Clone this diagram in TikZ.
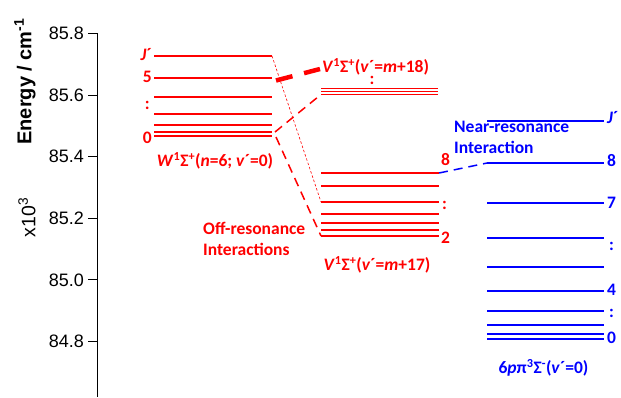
\documentclass[tikz,border=0pt]{standalone}
\usepackage{fontspec}
\setmainfont{Liberation Sans}
\newfontfamily\lblfont{Carlito}
\begin{document}
\begin{tikzpicture}[x=1pt, y=-1pt,
	lvl/.style={line width=1.8pt},
	lbl/.style={inner sep=0pt, font=\lblfont\fontsize{17.5}{20}\selectfont\bfseries},
	tick/.style={inner sep=0pt, anchor=east, font=\fontsize{18}{20}\selectfont},
	dashlink/.style={line width=1.5pt, dash pattern=on 9pt off 6pt},
	dotlink/.style={line width=0.6pt, dash pattern=on 2.5pt off 2pt}]
	\useasboundingbox (0,0) rectangle (621,397);
	% energy axis
	\draw[line width=1pt] (97.5,33)--(97.5,397);
	\foreach \v [count=\i from 0] in {85.8, 85.6, 85.4, 85.2, 85.0, 84.8} {
		\draw[line width=1pt] (88,33.5+61.6*\i)--(97.5,33.5+61.6*\i);
		\node[tick] (t\i) at (84,33.5+61.6*\i) {\v};
	}
	\node[rotate=90, inner sep=0pt, font=\fontsize{20}{22}\selectfont\bfseries] (ylab) at (25,81.5) {Energy / cm\textsuperscript{-1}};
	\node[rotate=90, inner sep=0pt, font=\fontsize{19.5}{22}\selectfont] (xten) at (27,217.5) {x10\textsuperscript{3}};

	\begin{scope}[red]
	% W state
	\foreach \y [count=\i] in {56, 78, 97, 114, 125, 132, 136}
		\draw[lvl] (154,\y) coordinate (wL\i)--(272,\y) coordinate (wR\i);
	\node[lbl, anchor=east] (wJ) at (152,55) {\textit{J}´};
	\node[lbl, anchor=east] (w5) at (152,77) {5};
	\node[lbl, anchor=east] (wd) at (150,105) {:};
	\node[lbl, anchor=east] (w0) at (152,137.5) {0};
	\node[lbl] (wname) at (215,161) {\textit{W}\textsuperscript{1}Σ\textsuperscript{+}(\textit{n}=6; \textit{v}´=0)};
	% V state, m+18
	\foreach \y [count=\i] in {88.5, 91.5, 94.5}
		\draw[line width=1pt] (321,\y) coordinate (aL\i)--(438,\y) coordinate (aR\i);
	\node[lbl, anchor=west] (aname) at (322,67) {\textit{V}\textsuperscript{1}Σ\textsuperscript{+}(\textit{v}´=\textit{m}+18)};
	\coordinate (ax) at (372,0);
	\node[lbl, anchor=north] (ad) at ([yshift=-0.5pt]aname.south -| ax) {:};
	% V state, m+17
	\foreach \y [count=\i] in {173, 186, 202, 214, 223, 230, 236}
		\draw[lvl] (321,\y) coordinate (bL\i)--(439,\y) coordinate (bR\i);
	\node[lbl, anchor=west] (b8) at (441,160) {8};
	\node[lbl, anchor=west] (bd) at (442,205) {:};
	\node[lbl, anchor=west] (b2) at (441,238) {2};
	\node[lbl] (bname) at (377,265) {\textit{V}\textsuperscript{1}Σ\textsuperscript{+}(\textit{v}´=\textit{m}+17)};
	\node[lbl, anchor=west, align=left] (off) at (203,238.5) {Off-resonance\\[1pt]Interactions};
	% couplings
	\draw[line width=4.5pt, dash pattern=on 17pt off 12pt] ([shift={(4pt,-2.5pt)}]wR2)--([shift={(-2pt,-2pt)}]aname.west);
	\draw[dashlink] ([xshift=3pt]wR6)--(aL3);
	\draw[dashlink] ([shift={(4pt,-1pt)}]wR7)--(bL7);
	\draw[dotlink] (wR1)--(bL3);
	\end{scope}

	\begin{scope}[blue]
	% 6p pi state
	\foreach \y [count=\i] in {121, 163, 203, 238, 267, 291, 311, 325, 334, 339}
		\draw[lvl] (487,\y) coordinate (cL\i)--(604,\y) coordinate (cR\i);
	\node[lbl, anchor=west] (cJ) at (607,118) {\textit{J}´};
	\node[lbl, anchor=west] (c8) at (607,161) {8};
	\node[lbl, anchor=west] (c7) at (607,203) {7};
	\node[lbl, anchor=west] (cd1) at (609,246) {:};
	\node[lbl, anchor=west] (c4) at (607,290) {4};
	\node[lbl, anchor=west] (cd2) at (609,313) {:};
	\node[lbl, anchor=west] (c0) at (607,338) {0};
	\node[lbl] (cname) at (543.5,368) {6\textit{p}π\textsuperscript{3}Σ\textsuperscript{-}(\textit{v}´=0)};
	\node[lbl, anchor=west, align=left] (near) at (454,137.5) {Near-resonance\\[1pt]Interaction};
	\draw[dashlink] (bR1)--(cL2);
	\end{scope}
\end{tikzpicture}
\end{document}
